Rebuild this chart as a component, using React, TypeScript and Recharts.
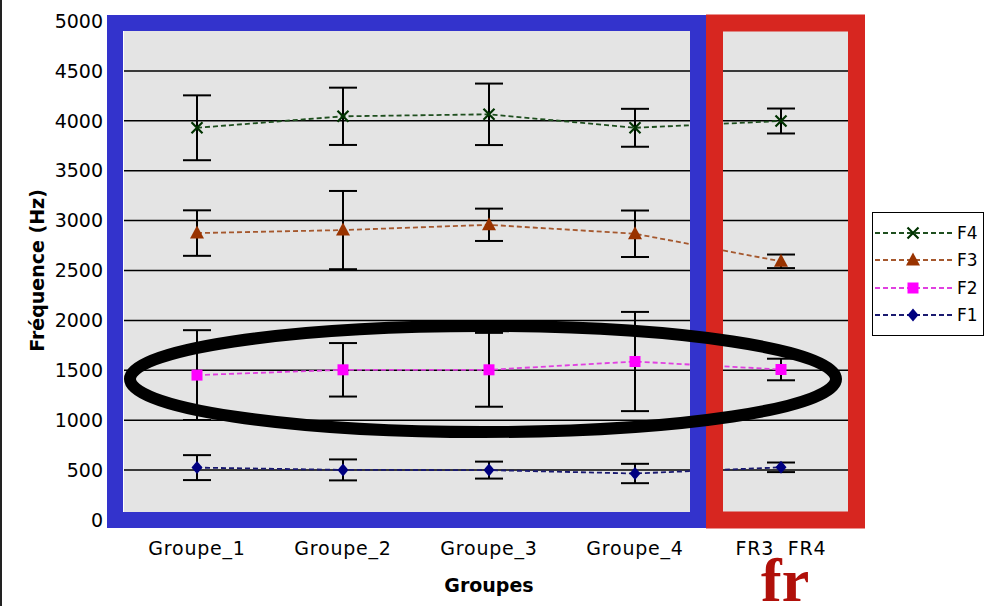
import React from 'react';
import { ComposedChart, Line, XAxis, YAxis, CartesianGrid, ErrorBar } from 'recharts';

// formant means (Hz) per group, with their spread
const groupes = ['Groupe_1', 'Groupe_2', 'Groupe_3', 'Groupe_4', 'FR3\u00a0\u00a0FR4'];
const f4 = [3930, 4045, 4065, 3930, 3998];
const f4Err = [325, 287, 308, 190, 125];
const f3 = [2875, 2905, 2958, 2868, 2592];
const f3Err = [228, 392, 162, 233, 68];
const f2 = [1452, 1505, 1505, 1588, 1508];
const f2Err = [450, 268, 370, 497, 108];
const f1 = [525, 502, 500, 466, 528];
const f1Err = [125, 105, 85, 97, 48];
const yTicks = [0, 500, 1000, 1500, 2000, 2500, 3000, 3500, 4000, 4500, 5000];

const FONT = '"DejaVu Sans", Verdana, sans-serif';

type Shape = 'cross' | 'triangle' | 'square' | 'diamond';

const series: { key: string; values: number[]; errors: number[]; line: string; mark: string; shape: Shape }[] = [
  { key: 'F4', values: f4, errors: f4Err, line: '#1f4f1f', mark: '#003300', shape: 'cross' },
  { key: 'F3', values: f3, errors: f3Err, line: '#a5582e', mark: '#993300', shape: 'triangle' },
  { key: 'F2', values: f2, errors: f2Err, line: '#e040e0', mark: '#ff00ff', shape: 'square' },
  { key: 'F1', values: f1, errors: f1Err, line: '#1a1a70', mark: '#000080', shape: 'diamond' },
];

const data = groupes.map((g, i) => {
  const row: Record<string, string | number> = { groupe: g };
  series.forEach((s) => {
    row[s.key] = s.values[i];
    row[s.key + 'err'] = s.errors[i];
  });
  return row;
});

function markerPath(shape: Shape, cx: number, cy: number, color: string, k?: string) {
  switch (shape) {
    case 'cross':
      return (
        <path
          key={k}
          d={`M${cx - 5.5},${cy - 5.5}L${cx + 5.5},${cy + 5.5}M${cx - 5.5},${cy + 5.5}L${cx + 5.5},${cy - 5.5}`}
          stroke={color}
          strokeWidth={2.2}
          fill="none"
        />
      );
    case 'triangle':
      return <polygon key={k} points={`${cx},${cy - 7.5} ${cx + 7},${cy + 5.5} ${cx - 7},${cy + 5.5}`} fill={color} />;
    case 'square':
      return <rect key={k} x={cx - 5.5} y={cy - 5.5} width={11} height={11} fill={color} />;
    default:
      return <polygon key={k} points={`${cx},${cy - 6.5} ${cx + 5.5},${cy} ${cx},${cy + 6.5} ${cx - 5.5},${cy}`} fill={color} />;
  }
}

function YLabel(props: any) {
  const vb = props.viewBox || { y: 21, height: 499 };
  const cy = vb.y + vb.height / 2;
  return (
    <text
      x={37}
      y={cy}
      transform={`rotate(-90 37 ${cy})`}
      textAnchor="middle"
      dominantBaseline="central"
      fontFamily={FONT}
      fontSize={19}
      fontWeight="bold"
      fill="#000"
    >
      Fréquence (Hz)
    </text>
  );
}

function LegendBox() {
  return (
    <div
      style={{
        position: 'absolute',
        left: 872,
        top: 212,
        width: 112,
        height: 124,
        border: '1px solid #000',
        background: '#fff',
        paddingTop: 6,
        boxSizing: 'border-box',
      }}
    >
      {series.map((s) => (
        <div key={s.key} style={{ display: 'flex', alignItems: 'center', height: 27.5 }}>
          <svg width={84} height={20} style={{ display: 'block' }}>
            <line x1={2} y1={10} x2={82} y2={10} stroke={s.line} strokeWidth={1.8} strokeDasharray="5 3" />
            {markerPath(s.shape, 40, 10, s.mark)}
          </svg>
          <span style={{ fontFamily: FONT, fontSize: 17, color: '#000', lineHeight: '20px' }}>{s.key}</span>
        </div>
      ))}
    </div>
  );
}

export default function App() {
  return (
    <div style={{ position: 'absolute', left: 0, top: 0, width: 989, height: 606, background: '#fff' }}>
      <ComposedChart
        width={989}
        height={606}
        data={data}
        margin={{ top: 21, right: 135, bottom: 0, left: 0 }}
        style={{ fontFamily: FONT }}
      >
        <CartesianGrid horizontal vertical={false} stroke="#000" strokeWidth={1.5} fill="#e4e4e4" strokeOpacity={1} />
        <XAxis
          dataKey="groupe"
          scale="band"
          height={86}
          axisLine={false}
          tickLine={false}
          tickSize={0}
          tickMargin={22}
          interval={0}
          tick={{ fill: '#000', fontSize: 19, fontFamily: FONT, letterSpacing: 0.8 }}
          label={{ value: 'Groupes', position: 'insideBottom', offset: 14, fill: '#000', fontSize: 19, fontWeight: 'bold', fontFamily: FONT }}
        />
        <YAxis
          width={124}
          domain={[0, 5000]}
          ticks={yTicks}
          interval={0}
          axisLine={false}
          tickLine={false}
          tickSize={0}
          tickMargin={21}
          tick={{ fill: '#000', fontSize: 19, fontFamily: FONT }}
          label={(p: any) => <YLabel {...p} />}
        />
        {series.map((s) => (
          <Line
            key={s.key}
            dataKey={s.key}
            type="linear"
            stroke={s.line}
            strokeWidth={1.8}
            strokeDasharray="5 3"
            isAnimationActive={false}
            dot={(p: any) => markerPath(s.shape, p.cx, p.cy, s.mark, `${s.key}-${p.index}`)}
            activeDot={false}
          >
            <ErrorBar dataKey={s.key + 'err'} width={14} stroke="#000" strokeWidth={2} direction="y" isAnimationActive={false} />
          </Line>
        ))}
      </ComposedChart>

      {/* annotations drawn over the chart: group frames, ellipse around F2 and the "fr" tag */}
      <svg width={989} height={606} style={{ position: 'absolute', left: 0, top: 0, pointerEvents: 'none' }}>
        <line x1={1} y1={0} x2={1} y2={606} stroke="#222" strokeWidth={2} />
        <rect x={115} y={23} width={583} height={497} fill="none" stroke="#3333cc" strokeWidth={16} />
        <rect x={714.5} y={23} width={142} height={497} fill="none" stroke="#d72620" strokeWidth={17} />
        <ellipse cx={483} cy={379} rx={353} ry={53} fill="none" stroke="#000" strokeWidth={12} />
        <text
          x={761}
          y={601}
          fontFamily='"Liberation Serif", "DejaVu Serif", serif'
          fontSize={62}
          fontWeight="bold"
          fill="#b0100a"
        >
          fr
        </text>
      </svg>

      <LegendBox />
    </div>
  );
}
